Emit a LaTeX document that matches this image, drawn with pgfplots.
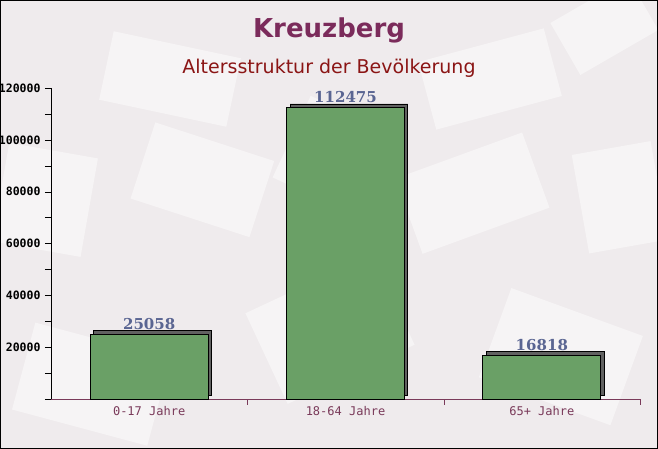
\documentclass[border=0pt]{standalone}
\usepackage{pgfplots}
\pgfplotsset{compat=1.18}
\usepackage{fontspec}
\setmainfont{DejaVu Sans}
\newfontfamily\monofont{DejaVu Sans Mono}
\newfontfamily\seriffont{DejaVu Serif}
\usetikzlibrary{shadows}
\definecolor{bgcol}{HTML}{EFEBED}
\definecolor{titlecol}{HTML}{7B2B5B}
\definecolor{subcol}{HTML}{8B1515}
\definecolor{valcol}{HTML}{5A6592}
\definecolor{barcol}{HTML}{6AA066}
\definecolor{xaxcol}{HTML}{7A3A5A}
\begin{document}
\begin{tikzpicture}[x=1pt,y=1pt]
\fill[bgcol] (0,0) rectangle (658,449);
% faint envelope-like background texture
\begin{scope}
\clip (0,0) rectangle (658,449);
\begin{scope}[fill=white, opacity=0.45]
\fill[rotate around={-12:(170,370)}] (105,335) rectangle (235,405);
\fill[rotate around={15:(490,370)}] (425,335) rectangle (555,405);
\fill[rotate around={-18:(200,270)}] (140,230) rectangle (265,310);
\fill[rotate around={20:(470,255)}] (405,215) rectangle (540,295);
\fill[rotate around={-15:(90,60)}] (20,20) rectangle (160,110);
\fill[rotate around={25:(330,120)}] (260,70) rectangle (400,170);
\fill[rotate around={-20:(560,90)}] (490,45) rectangle (630,140);
\fill[rotate around={10:(610,250)}] (580,200) rectangle (660,300);
\fill[rotate around={-10:(40,250)}] (0,200) rectangle (90,300);
\fill[rotate around={30:(600,420)}] (560,390) rectangle (650,450);
\fill[rotate around={-25:(330,300)}] (290,250) rectangle (390,340);
\end{scope}
\end{scope}
\node[font=\fontsize{26}{30}\selectfont\bfseries, text=titlecol] at (329,419) {Kreuzberg};
\node[font=\fontsize{19}{22}\selectfont, text=subcol] at (329,381) {Altersstruktur der Bevölkerung};
\begin{axis}[
  at={(51pt,50pt)}, anchor=south west,
  scale only axis, width=589pt, height=311pt,
  xmin=-0.5, xmax=2.5, ymin=0, ymax=120000,
  axis x line=bottom, axis y line=left,
  x axis line style={draw=xaxcol, -},
  y axis line style={draw=black, -},
  xtick={0.5,1.5,2.5}, xticklabels={},
  xtick style={draw=xaxcol},
  extra x ticks={0,1,2}, extra x tick labels={0-17 Jahre,18-64 Jahre,65+ Jahre},
  extra x tick style={major tick length=0pt},
  ytick={0,20000,40000,60000,80000,100000,120000},
  yticklabels={,20000,40000,60000,80000,100000,120000},
  minor y tick num=1,
  ytick style={draw=black},
  major tick length=6pt, minor tick length=6pt,
  tick align=outside,
  scaled y ticks=false,
  /pgf/number format/assume math mode=true,
  y tick label style={font=\monofont\bfseries\fontsize{11.5}{13}\selectfont, text=black, xshift=-1pt},
  x tick label style={font=\monofont\fontsize{12}{14}\selectfont, text=xaxcol, yshift=-4pt},
  ybar, bar width=0.6,
  point meta=explicit symbolic,
  nodes near coords,
  nodes near coords style={font=\seriffont\bfseries\fontsize{15}{18}\selectfont, text=valcol, yshift=1pt},
  clip=false,
]
\addplot[fill=barcol, draw=black, line width=0.9pt,
  drop shadow={shadow xshift=3.5pt, shadow yshift=3.5pt, fill=black!62, opacity=1}]
  coordinates {(0,25058) [25058] (1,112475) [112475] (2,16818) [16818]};
\end{axis}
\draw[black, line width=1.5pt] (0,0) rectangle (658,449);
\pgfresetboundingbox
\useasboundingbox (0,0) rectangle (658,449);
\end{tikzpicture}
\end{document}
